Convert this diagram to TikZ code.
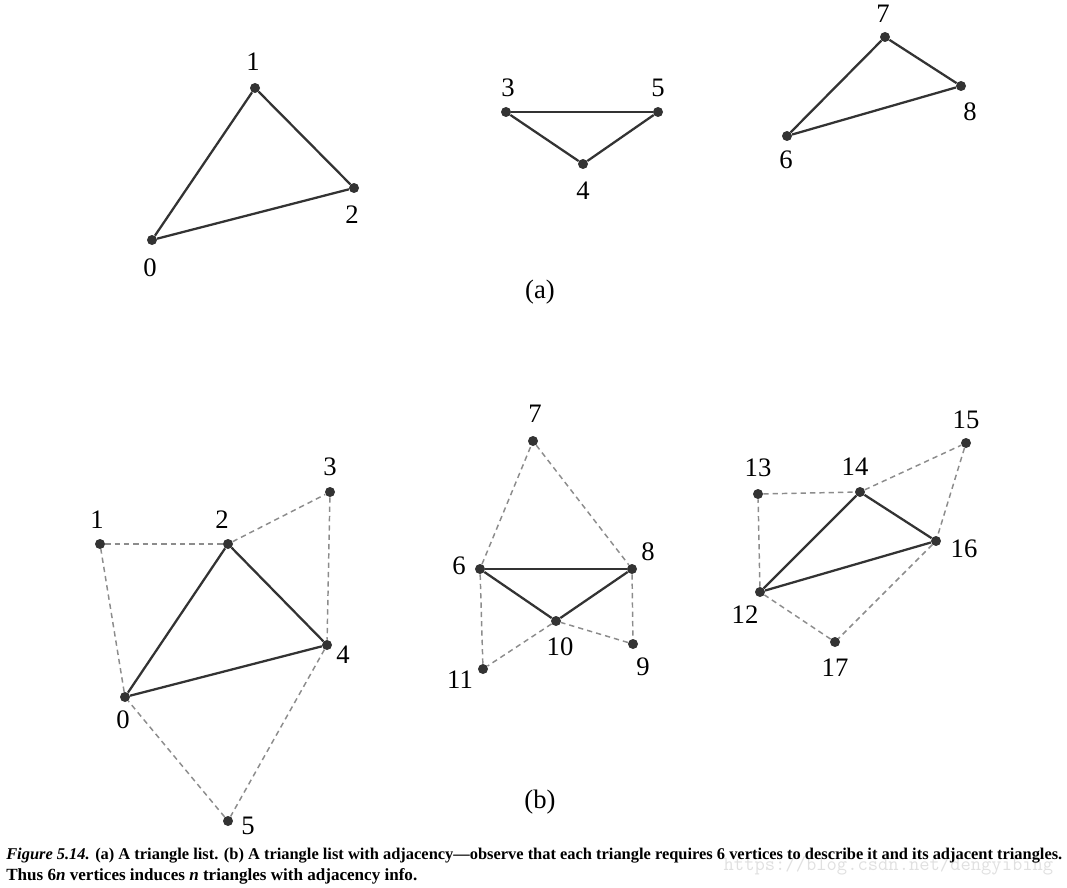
\documentclass[tikz,border=0pt]{standalone}
\usepackage{fontspec}
\setmainfont{Liberation Serif}
\begin{document}
\begin{tikzpicture}[x=0.75pt,y=-0.75pt,
  vtx/.style={circle,fill=black!80,inner sep=0pt,minimum size=7.5pt},
  lbl/.style={font=\fontsize{20}{22}\selectfont},
  solidedge/.style={line width=1.7pt,black!80},
  dashedge/.style={dashed,line width=1.1pt,black!45,dash pattern=on 4pt off 3pt}]
\useasboundingbox (0,0) rectangle (1067,888);
% (a)
\foreach \n/\x/\y in {a0/152/240,a1/255/88,a2/354/188,a3/506/112,a4/583/164,a5/658/112,a6/787/136,a7/885/37,a8/961/86}
  \node[vtx] (\n) at (\x,\y) {};
\foreach \t/\x/\y in {0/150/268,1/253/62,2/352/215,3/508/88,4/583/191,5/658/88,6/786/160,7/883/14,8/970/112}
  \node[lbl] (la\t) at (\x,\y) {\t};
\foreach \u/\v in {a0/a1,a1/a2,a2/a0,a3/a4,a4/a5,a5/a3,a6/a7,a7/a8,a8/a6}
  \draw[solidedge] (\u)--(\v);
\node[lbl] (capa) at (540,292) {(a)};
% (b)
\foreach \n/\x/\y in {b0/125/697,b1/100/544,b2/228/544,b3/330/492,b4/327/645,b5/228/821,
  b6/480/569,b7/533/441,b8/632/569,b9/633/644,b10/556/621,b11/483/669,
  b12/760/592,b13/758/494,b14/860/492,b15/966/443,b16/936/541,b17/835/642}
  \node[vtx] (\n) at (\x,\y) {};
\foreach \t/\x/\y in {0/123/720,1/97/520,2/222/520,3/330/467,4/343/655,5/248/826,
  6/459/566,7/535/414,8/648/552,9/643/667,10/560/647,11/460/680,
  12/745/615,13/758/468,14/855/467,15/966/420,16/964/549,17/835/668}
  \node[lbl] (lb\t) at (\x,\y) {\t};
\foreach \u/\v in {b0/b1,b1/b2,b2/b3,b3/b4,b4/b5,b5/b0,b6/b7,b7/b8,b8/b9,b9/b10,b10/b11,b11/b6,
  b12/b13,b13/b14,b14/b15,b15/b16,b16/b17,b17/b12}
  \draw[dashedge] (\u)--(\v);
\foreach \u/\v in {b0/b2,b2/b4,b4/b0,b6/b8,b8/b10,b10/b6,b12/b14,b14/b16,b16/b12}
  \draw[solidedge] (\u)--(\v);
\node[lbl] (capb) at (540,802) {(b)};
% caption
\node[text=black!12,font=\ttfamily\fontsize{15}{15}\selectfont,anchor=east] (wm) at (1058,866) {https://blog.csdn.net/dengyibing};
\node[anchor=north west,inner sep=0pt,font=\fontsize{12.8}{15}\selectfont\bfseries] (cap1) at (6,848)
  {\resizebox{792pt}{!}{\textit{Figure 5.14.} (a) A triangle list. (b) A triangle list with adjacency---observe that each triangle requires 6 vertices to describe it and its adjacent triangles.}};
\node[anchor=north west,inner sep=0pt,font=\fontsize{12.8}{15}\selectfont\bfseries] (cap2) at (6,868)
  {Thus 6\textit{n} vertices induces \textit{n} triangles with adjacency info.};
\end{tikzpicture}
\end{document}
